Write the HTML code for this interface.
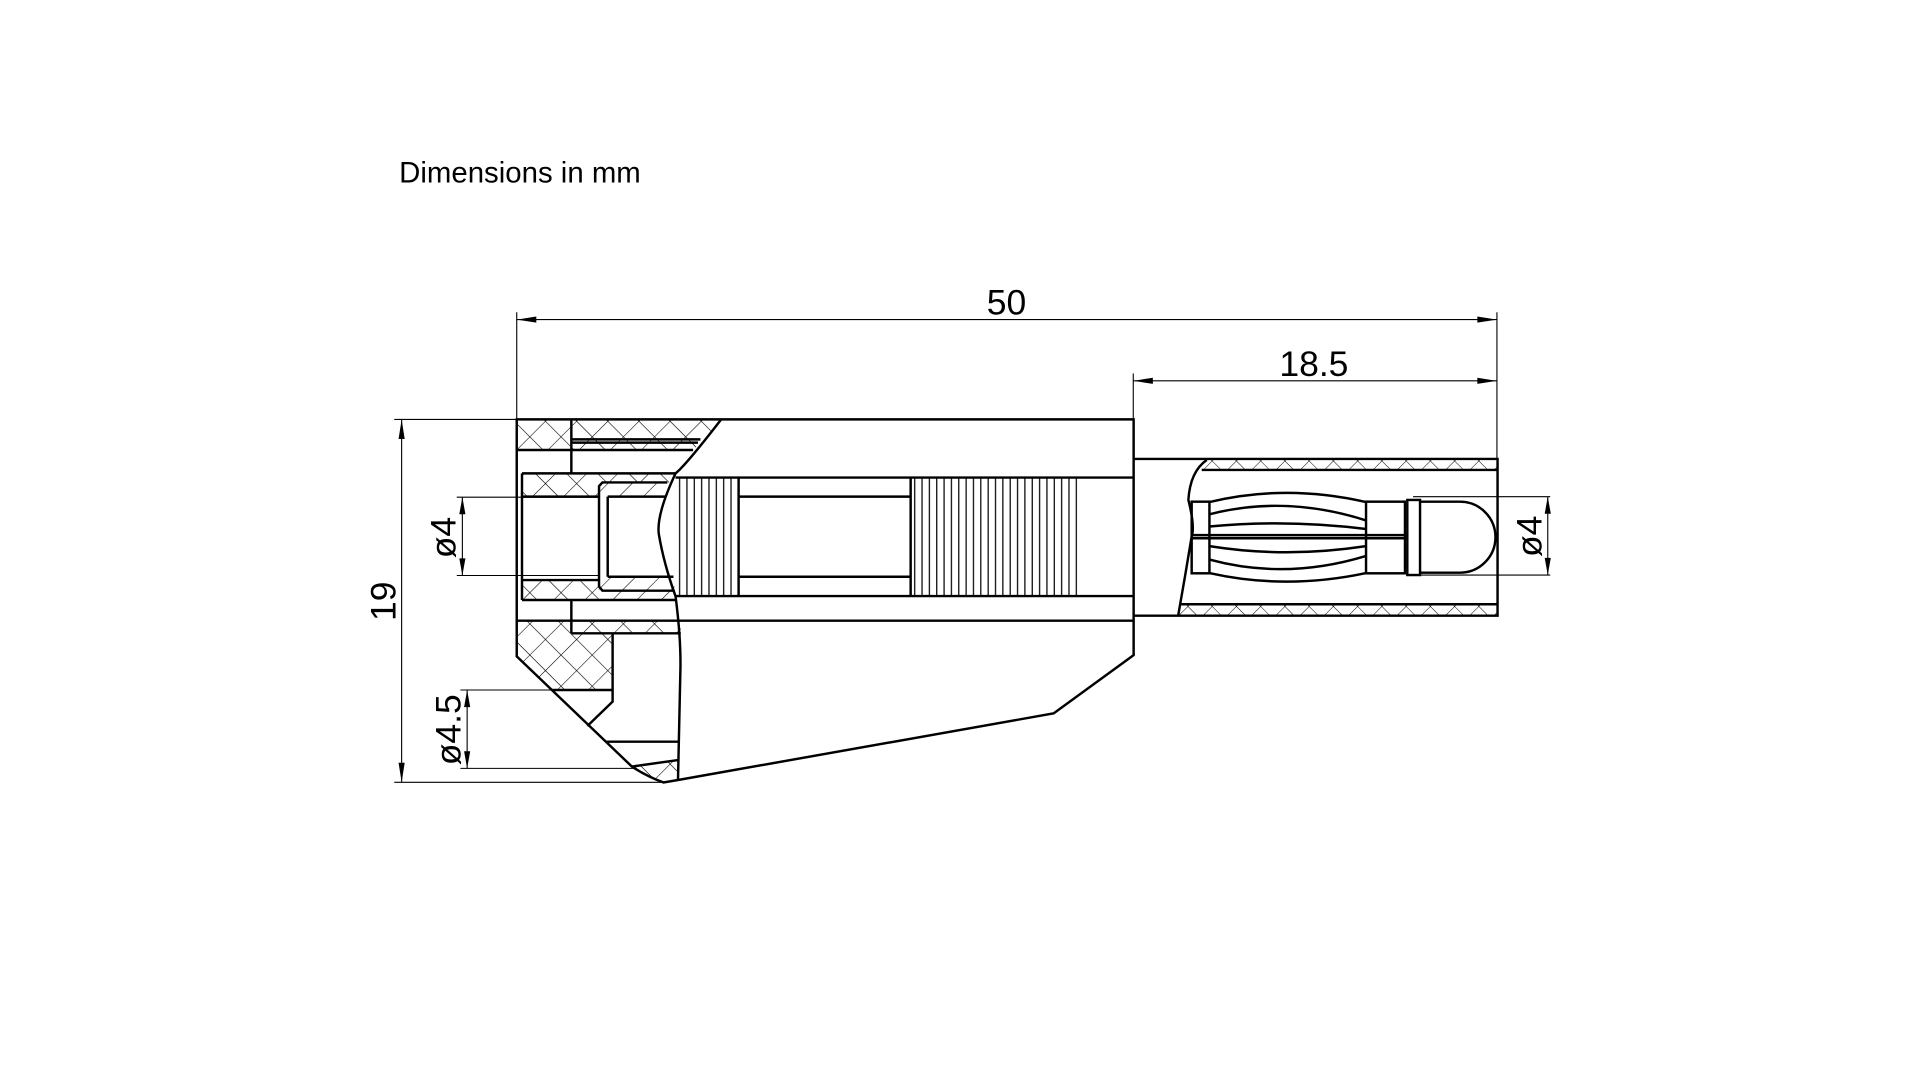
<!DOCTYPE html>
<html><head><meta charset="utf-8"><style>
html,body{margin:0;padding:0;background:#fff;}
svg{display:block;}
text{font-family:"Liberation Sans",sans-serif;fill:#000;}
</style></head><body>
<svg width="1920" height="1080" viewBox="0 0 1568 882" xmlns="http://www.w3.org/2000/svg">
<defs>
<pattern id="xh" patternUnits="userSpaceOnUse" width="18" height="18" patternTransform="rotate(45)">
<line x1="0" y1="0" x2="0" y2="18" stroke="#000" stroke-width="0.9"/>
<line x1="0" y1="0" x2="18" y2="0" stroke="#000" stroke-width="0.9"/>
</pattern>
<pattern id="xs" patternUnits="userSpaceOnUse" width="14" height="14" patternTransform="rotate(45)">
<line x1="0" y1="0" x2="0" y2="14" stroke="#000" stroke-width="0.8"/>
<line x1="0" y1="0" x2="14" y2="0" stroke="#000" stroke-width="0.8"/>
</pattern>
<pattern id="dh" patternUnits="userSpaceOnUse" width="14" height="14" patternTransform="rotate(45)">
<line x1="0" y1="0" x2="0" y2="14" stroke="#000" stroke-width="0.9"/>
</pattern>
<pattern id="vr" patternUnits="userSpaceOnUse" width="6" height="10">
<line x1="3" y1="0" x2="3" y2="10" stroke="#000" stroke-width="1"/>
</pattern>
</defs>

<text x="326" y="149" font-size="24">Dimensions in mm</text>

<g fill="none" stroke="#000">
<polygon points="422,342.5 589,342.5 579,355 566,367.5 422,367.5" fill="url(#xh)" stroke="none"/>
<polygon points="426,386.6 551.7,386.6 547,394 489,394 489,405.6 426,405.6" fill="url(#xh)" stroke="none"/>
<polygon points="489,394 547,394 544,405.6 489,405.6" fill="url(#dh)" stroke="none"/>
<polygon points="426,473.7 489,473.7 489,490 426,490" fill="url(#xh)" stroke="none"/>
<polygon points="489,471 550,471 552,490 489,490" fill="url(#dh)" stroke="none"/>
<polygon points="466.6,506.9 556,506.9 556,517.2 466.6,517.2" fill="url(#xh)" stroke="none"/>
<polygon points="422,506.9 466.6,506.9 466.6,517.2 500.3,517.2 500.3,563.5 451,563.5 422,536" fill="url(#xh)" stroke="none"/>
<polygon points="516,626 553.7,620.7 553.7,637 541.8,639 528,633" fill="url(#xh)" stroke="none"/>
<polygon points="985,375 1223,375 1223,383.8 981,383.8" fill="url(#xs)" stroke="none"/>
<polygon points="963.7,493.5 1223,493.5 1223,502.8 962,502.8" fill="url(#xs)" stroke="none"/>
<rect x="554" y="390" width="49" height="96.8" fill="url(#vr)" stroke="none"/>
<rect x="744" y="390" width="136" height="96.8" fill="url(#vr)" stroke="none"/>
<rect x="604" y="405.6" width="139" height="65.4" fill="#fff" stroke="none"/>

<g stroke-width="2">
<path d="M422,342.5 L925.8,342.5 L925.8,535 L860.5,582.6 L553.7,637 L541.8,639 Q528,634 516,626 L422,536 Z"/>
<path d="M589,342.5 Q560,380 551.7,386.6 Q536,420 538,436 Q542,460 551.7,487 Q556,520 555.7,545 L553.7,637"/>
<line x1="422" y1="367.5" x2="566" y2="367.5"/>
<line x1="466.6" y1="342.5" x2="466.6" y2="386.6"/>
<line x1="466.6" y1="358.8" x2="572" y2="358.8"/>
<line x1="466.6" y1="361.5" x2="570" y2="361.5"/>
<line x1="426.3" y1="386.6" x2="551.7" y2="386.6"/>
<line x1="426.3" y1="386.6" x2="426.3" y2="490"/>
<line x1="551.7" y1="390" x2="925.8" y2="390"/>
<line x1="551.7" y1="486.8" x2="925.8" y2="486.8"/>
<line x1="422" y1="506.9" x2="925.8" y2="506.9"/>
<line x1="426.3" y1="405.6" x2="489" y2="405.6"/>
<line x1="426.3" y1="473.7" x2="489" y2="473.7"/>
<line x1="426.3" y1="490" x2="552" y2="490"/>
<path d="M545,394 L492,394 L489.2,397 L489.2,479 L492,482.4 L551,482.4"/>
<line x1="496.3" y1="405.6" x2="496.3" y2="471"/>
<line x1="496.3" y1="405.6" x2="544" y2="405.6"/>
<line x1="496.3" y1="471" x2="550" y2="471"/>
<line x1="466.6" y1="490" x2="466.6" y2="517.2"/>
<line x1="466.6" y1="517.2" x2="556" y2="517.2"/>
<path d="M500.3,517.2 L500.3,573 L479.7,592.9"/>
<line x1="451" y1="563.5" x2="500.3" y2="563.5"/>
<line x1="494.3" y1="605.7" x2="553.7" y2="605.7"/>
<line x1="516" y1="626" x2="553.7" y2="620.7"/>
<line x1="603.2" y1="390" x2="603.2" y2="486.8"/>
<line x1="743.7" y1="390" x2="743.7" y2="486.8"/>
<line x1="603.2" y1="405.6" x2="743.7" y2="405.6"/>
<line x1="603.2" y1="471" x2="743.7" y2="471"/>

<path d="M925.8,374.8 L1223,374.8 L1223,502.8 L925.8,502.8"/>
<line x1="981.4" y1="383.8" x2="1223" y2="383.8"/>
<line x1="963.7" y1="493.5" x2="1223" y2="493.5"/>
<path d="M985.5,375.7 Q972,385 970.5,408.3 Q976,430 973.2,438 Q968,470 962.3,502"/>
<rect x="973.2" y="409.7" width="14.5" height="58.5"/>
<rect x="1115.6" y="409.7" width="31.8" height="58.5"/>
<line x1="973.2" y1="437" x2="1147.4" y2="437"/>
<line x1="973.2" y1="439.6" x2="1147.4" y2="439.6"/>
<path d="M987.7,410 Q1050,395 1115.6,410"/>
<path d="M987.7,420 Q1050,404 1115.6,425"/>
<path d="M987.7,430 Q1050,424 1115.6,432"/>
<path d="M987.7,446 Q1050,456 1115.6,446"/>
<path d="M987.7,457 Q1050,474 1115.6,454"/>
<path d="M987.7,468 Q1050,482 1115.6,468"/>
<rect x="1149.3" y="408.3" width="10.4" height="61.3"/>
<path d="M1159.7,409.7 L1192.3,409.7 A29,29 0 0 1 1192.3,467.7 L1159.7,467.7"/>
</g>

<g stroke-width="0.9">
<line x1="422" y1="255" x2="422" y2="342"/>
<line x1="1222.5" y1="255" x2="1222.5" y2="375"/>
<line x1="422" y1="261" x2="1222.5" y2="261"/>
<line x1="925.5" y1="305" x2="925.5" y2="342"/>
<line x1="925.5" y1="311" x2="1222.5" y2="311"/>
<line x1="322" y1="342.5" x2="422" y2="342.5"/>
<line x1="322" y1="638.9" x2="541" y2="638.9"/>
<line x1="328" y1="342.5" x2="328" y2="638.9"/>
<line x1="373" y1="406" x2="490" y2="406"/>
<line x1="373" y1="470" x2="490" y2="470"/>
<line x1="377.6" y1="406" x2="377.6" y2="470"/>
<line x1="376" y1="563.5" x2="452" y2="563.5"/>
<line x1="376" y1="627.5" x2="520" y2="627.5"/>
<line x1="381.5" y1="563.5" x2="381.5" y2="627.5"/>
<line x1="1154" y1="405.6" x2="1266" y2="405.6"/>
<line x1="1154" y1="469.6" x2="1266" y2="469.6"/>
<line x1="1264" y1="405.6" x2="1264" y2="469.6"/>
</g>
</g>

<g fill="#000">
<polygon points="422,261 438,258.5 438,263.5"/>
<polygon points="1222.5,261 1206.5,258.5 1206.5,263.5"/>
<polygon points="925.5,311 941.5,308.5 941.5,313.5"/>
<polygon points="1222.5,311 1206.5,308.5 1206.5,313.5"/>
<polygon points="328,342.5 325.5,358.5 330.5,358.5"/>
<polygon points="328,638.9 325.5,622.9 330.5,622.9"/>
<polygon points="377.6,406 375.1,420 380.1,420"/>
<polygon points="377.6,470 375.1,456 380.1,456"/>
<polygon points="381.5,563.5 379,577.5 384,577.5"/>
<polygon points="381.5,627.5 379,613.5 384,613.5"/>
<polygon points="1264,405.6 1261.5,419.6 1266.5,419.6"/>
<polygon points="1264,469.6 1261.5,455.6 1266.5,455.6"/>
</g>

<g font-size="29">
<text x="822" y="257" text-anchor="middle">50</text>
<text x="1073" y="307" text-anchor="middle">18.5</text>
<text transform="translate(323,491) rotate(-90)" text-anchor="middle">19</text>
<text transform="translate(372,439) rotate(-90)" text-anchor="middle">ø4</text>
<text transform="translate(376,596) rotate(-90)" text-anchor="middle">ø4.5</text>
<text transform="translate(1259,438) rotate(-90)" text-anchor="middle">ø4</text>
</g>
</svg>
</body></html>
